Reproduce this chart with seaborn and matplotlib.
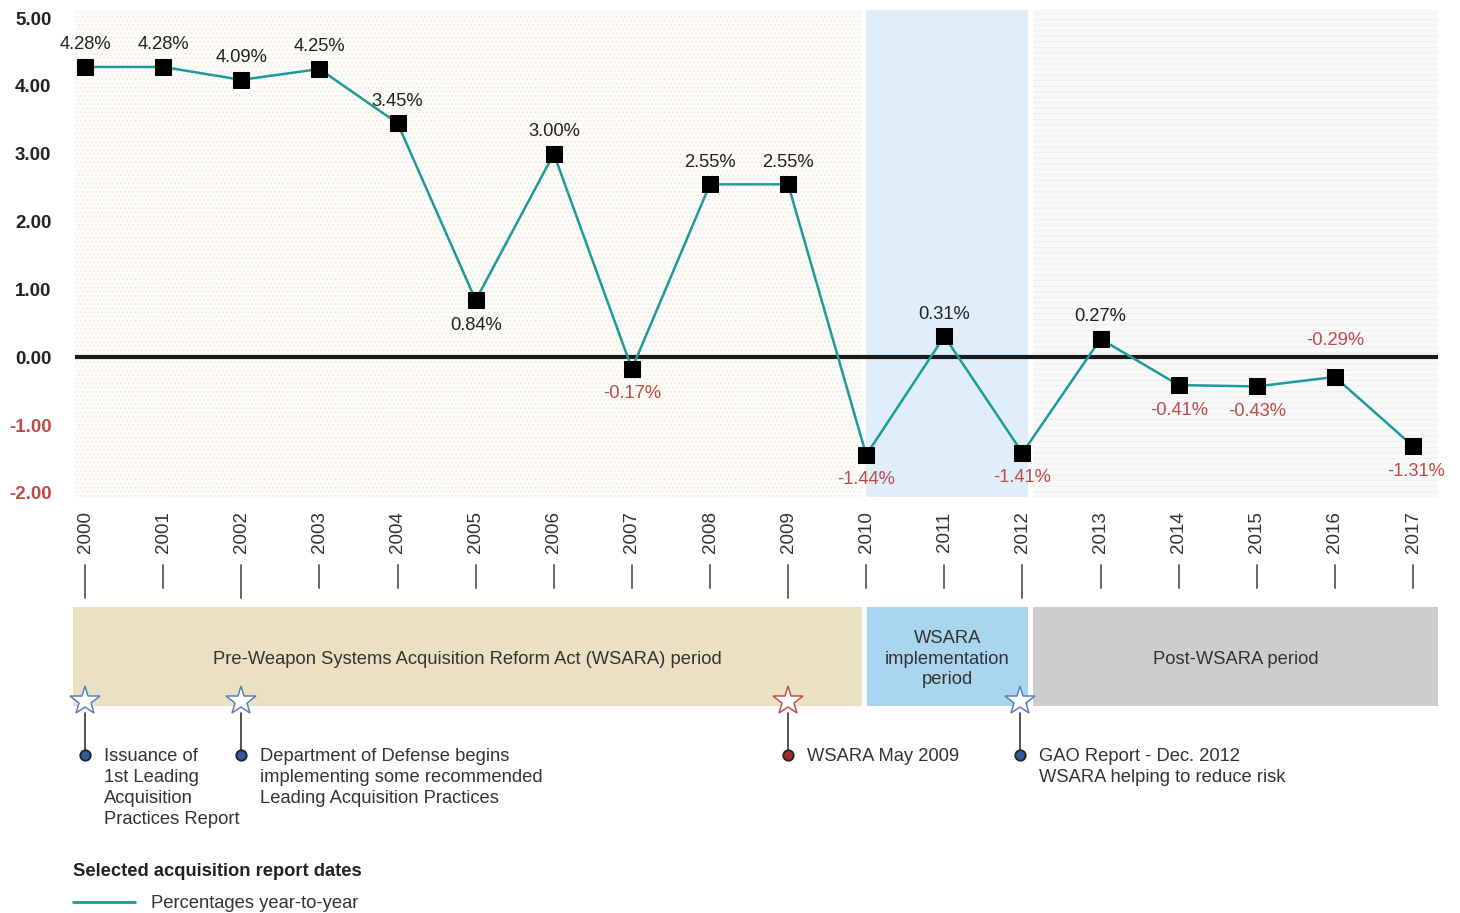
import numpy as np
import matplotlib
matplotlib.use("Agg")
import matplotlib.pyplot as plt
import seaborn as sns

# data
years = list(range(2000, 2018))
pct_change = [4.28, 4.28, 4.09, 4.25, 3.45, 0.84, 3.00, -0.17, 2.55, 2.55,
              -1.44, 0.31, -1.41, 0.27, -0.41, -0.43, -0.29, -1.31]
y_ticks = [5, 4, 3, 2, 1, 0, -1, -2]

periods = ["Pre-Weapon Systems Acquisition Reform Act (WSARA) period",
           "WSARA\nimplementation\nperiod",
           "Post-WSARA period"]
event_years = [2000, 2002, 2009, 2012]
event_labels = ["Issuance of\n1st Leading\nAcquisition\nPractices Report",
                "Department of Defense begins\nimplementing some recommended\nLeading Acquisition Practices",
                "WSARA May 2009",
                "GAO Report - Dec. 2012\nWSARA helping to reduce risk"]
event_is_wsara = [False, False, True, False]

TEAL = "#1E9A9C"
RED = "#BE4B48"
TXT = "#333333"
FS = 13.2

sns.set_theme(style="white")
plt.rcParams["font.family"] = ["Liberation Sans", "DejaVu Sans"]

W, H = 1460, 913
fig = plt.figure(figsize=(W / 100, H / 100), dpi=100)

# pixel layout of the main chart
L, R, T, B = 75, 1438, 10, 497
X0, X1 = 1999.87, 2017.32
ax = fig.add_axes([L / W, 1 - B / H, (R - L) / W, (B - T) / H])
ax.set_xlim(X0, X1)
ax.set_ylim(-2.06, 5.12)


def yr2px(yr):
    return L + (yr - X0) / (X1 - X0) * (R - L)


def px2yr(px):
    return X0 + (px - L) / (R - L) * (X1 - X0)


# shaded backgrounds
plt.rcParams["hatch.linewidth"] = 0.6
ax.axvspan(X0, px2yr(862), facecolor="#FDFCF8", edgecolor="#EEEADB", hatch="....", lw=0, zorder=0)
ax.axvspan(2010, px2yr(1028), facecolor="#DFEEF9", lw=0, zorder=0)
ax.axvspan(px2yr(1033), X1, facecolor="#F9F9F9", edgecolor="#ECECEC", hatch="---", lw=0, zorder=0)

ax.axhline(0, color="#1a1a1a", lw=3, zorder=2)

sns.lineplot(x=years, y=pct_change, ax=ax, color=TEAL, lw=1.8, marker="s",
             markersize=12, markerfacecolor="black", markeredgecolor="black", zorder=3)

# value labels
special = {2005: (0, -18), 2016: (0, 26), 2017: (2, -18)}
for yr, v in zip(years, pct_change):
    dx, dy = special.get(yr, (0, 16 if v > 0 else -18))
    ax.annotate(f"{v:.2f}%", (yr, v), xytext=(dx, dy), textcoords="offset points",
                ha="center", va="center", fontsize=FS,
                color=RED if v < 0 else "#222222", zorder=4)

ax.set_yticks(y_ticks)
ax.set_yticklabels([f"{t:.2f}" for t in y_ticks], fontweight="bold", fontsize=13.5)
for lab, t in zip(ax.get_yticklabels(), y_ticks):
    lab.set_color(RED if t < 0 else "#222222")
ax.tick_params(axis="y", length=0, pad=17)
ax.set_xticks([])
for s in ax.spines.values():
    s.set_visible(False)

# overlay in pixel coordinates for the lower part
ov = fig.add_axes([0, 0, 1, 1], zorder=-1)
ov.set_xlim(0, W)
ov.set_ylim(H, 0)
ov.axis("off")

for yr in years:
    x = yr2px(yr)
    ov.text(x, 532, str(yr), rotation=90, ha="center", va="center", fontsize=13.5, color=TXT)
    ov.plot([x, x], [565, 598 if yr in event_years else 588], color="#666666", lw=1.4)

band_cols = ["#EAE1C3", "#A9D5EF", "#CDCDCD"]
band_px = [(73, 862), (867, 1028), (1033, 1438)]
for (x0, x1), col, name in zip(band_px, band_cols, periods):
    ov.fill_between([x0, x1], 607, 706, color=col, lw=0)
    ov.text((x0 + x1) / 2, 659, name, ha="center", va="center", fontsize=FS,
            color=TXT, linespacing=1.3)

for yr, lab, w in zip(event_years, event_labels, event_is_wsara):
    x = yr2px(yr) - (2 if yr == 2012 else 0)
    ec = "#C0504D" if w else "#5B7FBF"
    dot = "#A52A2A" if w else "#2E5A9E"
    ov.plot([x, x], [713, 755], color="#333333", lw=1.2, zorder=2)
    ov.plot(x, 701, marker="*", markersize=22, markerfacecolor="white",
            markeredgecolor=ec, mew=1.1, zorder=3)
    ov.plot(x, 755, marker="o", markersize=7.5, markerfacecolor=dot,
            markeredgecolor="#222222", mew=1.3, zorder=3)
    ov.text(x + 19, 748, lab, ha="left", va="top", fontsize=FS, color=TXT,
            linespacing=1.3)

ov.text(73, 871, "Selected acquisition report dates", ha="left", va="center",
        fontsize=FS, fontweight="bold", color="#222222")
ov.plot([73, 135], [902, 902], color=TEAL, lw=2)
ov.text(151, 903, "Percentages year-to-year", ha="left", va="center", fontsize=FS, color=TXT)

fig.savefig("out.png", dpi=100)
